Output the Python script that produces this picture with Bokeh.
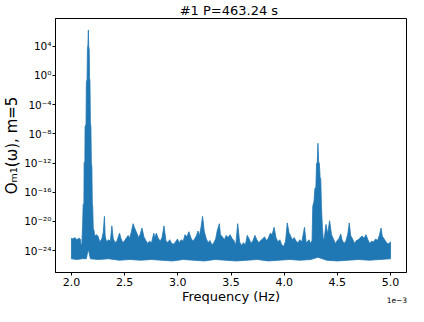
import numpy as np
from bokeh.plotting import figure
from bokeh.models import FixedTicker, CustomJSTickFormatter, Range1d, LinearAxis
from bokeh.embed import file_html
from bokeh.resources import INLINE

TITLE = "#1  P=463.24 s"
X_LABEL = "Frequency (Hz)"
Y_LABEL = "Oₘ₁(ω), m=5"
X_OFFSET_TEXT = "1e\u22123"

# upper envelope of the spectrum: frequency in units of 1e-3 Hz, log10 of value
upper_freq = [
    2.000, 2.015, 2.033, 2.051, 2.069, 2.083, 2.090, 2.098, 2.105, 2.110,
    2.117, 2.119, 2.126, 2.128, 2.137, 2.140, 2.147, 2.150, 2.155, 2.159,
    2.162, 2.167, 2.170, 2.174, 2.178, 2.183, 2.187, 2.192, 2.196, 2.200,
    2.205, 2.212, 2.218, 2.233, 2.249, 2.267, 2.285, 2.299, 2.310, 2.317,
    2.330, 2.348, 2.366, 2.380, 2.393, 2.411, 2.429, 2.452, 2.465, 2.483,
    2.501, 2.519, 2.533, 2.546, 2.560, 2.580, 2.591, 2.609, 2.632, 2.645,
    2.663, 2.681, 2.699, 2.717, 2.735, 2.753, 2.774, 2.786, 2.798, 2.816,
    2.834, 2.852, 2.870, 2.888, 2.906, 2.924, 2.942, 2.960, 2.978, 2.996,
    3.014, 3.032, 3.050, 3.068, 3.086, 3.104, 3.122, 3.140, 3.158, 3.176,
    3.190, 3.203, 3.217, 3.233, 3.248, 3.266, 3.284, 3.302, 3.320, 3.338,
    3.356, 3.370, 3.390, 3.401, 3.419, 3.437, 3.455, 3.473, 3.491, 3.509,
    3.527, 3.545, 3.563, 3.581, 3.599, 3.617, 3.635, 3.653, 3.671, 3.689,
    3.707, 3.725, 3.743, 3.761, 3.779, 3.797, 3.815, 3.833, 3.851, 3.869,
    3.887, 3.905, 3.923, 3.941, 3.959, 3.977, 3.995, 4.013, 4.029, 4.045,
    4.058, 4.076, 4.094, 4.112, 4.130, 4.148, 4.166, 4.191, 4.207, 4.220,
    4.234, 4.247, 4.262, 4.269, 4.280, 4.289, 4.298, 4.304, 4.311, 4.3175,
    4.324, 4.331, 4.338, 4.344, 4.350, 4.359, 4.368, 4.378, 4.393, 4.409,
    4.427, 4.445, 4.463, 4.481, 4.499, 4.517, 4.531, 4.544, 4.562, 4.580,
    4.598, 4.612, 4.625, 4.643, 4.661, 4.679, 4.697, 4.715, 4.733, 4.751,
    4.769, 4.787, 4.805, 4.823, 4.841, 4.859, 4.877, 4.895, 4.911, 4.922,
    4.940, 4.958, 4.976, 5.000,
]
upper_log10 = [
    -22.3, -22.4, -22.2, -22.5, -22.3, -22.4, -23.2, -23.0, -20.5, -17.7,
    -17.5, -12.0, -11.8, -7.0, -6.7, -1.0, -0.5, 3.5, 4.2, 6.2,
    4.0, 3.5, -0.3, -0.8, -6.5, -7.0, -12.0, -12.5, -17.5, -18.0,
    -21.0, -21.2, -22.0, -21.8, -22.0, -22.8, -22.4, -21.5, -19.3, -22.0,
    -22.8, -22.5, -22.7, -20.6, -22.4, -22.9, -22.6, -21.6, -22.3, -22.9,
    -22.6, -22.2, -21.9, -22.3, -21.6, -20.3, -20.8, -21.4, -22.2, -21.8,
    -20.9, -22.1, -22.6, -23.0, -22.7, -22.9, -21.6, -22.2, -21.6, -22.3,
    -22.7, -22.2, -20.6, -22.6, -22.9, -22.5, -23.0, -23.1, -22.8, -22.4,
    -22.9, -22.5, -22.7, -21.8, -22.1, -21.4, -22.2, -22.7, -22.4, -21.9,
    -21.3, -22.0, -20.9, -19.3, -21.3, -22.3, -22.9, -22.6, -23.2, -22.9,
    -22.4, -21.3, -20.3, -21.8, -22.1, -22.5, -21.9, -22.2, -21.8, -22.3,
    -22.6, -23.2, -20.3, -22.8, -23.3, -22.9, -23.2, -21.9, -22.4, -23.0,
    -22.6, -21.9, -22.5, -22.9, -22.6, -22.4, -22.1, -22.6, -22.3, -21.6,
    -21.8, -20.8, -22.2, -22.8, -22.5, -23.2, -23.4, -22.7, -20.2, -21.5,
    -21.9, -22.5, -22.2, -22.7, -22.9, -22.5, -22.8, -20.8, -22.9, -22.7,
    -22.5, -23.0, -22.6, -17.9, -17.3, -15.5, -15.3, -12.1, -11.9, -9.3,
    -11.8, -12.1, -14.0, -14.2, -17.8, -20.8, -22.5, -22.2, -20.4, -21.7,
    -19.9, -21.8, -22.4, -23.0, -22.6, -22.3, -21.7, -22.5, -23.0, -22.7,
    -21.7, -20.2, -21.9, -22.4, -23.0, -22.6, -22.5, -22.2, -22.0, -22.3,
    -21.8, -22.5, -23.0, -22.7, -22.8, -22.4, -22.6, -21.9, -20.9, -22.0,
    -22.4, -22.8, -23.1, -22.8,
]

# lower envelope of the spectrum
lower_freq = [
    2.000, 2.050, 2.100, 2.140, 2.152, 2.159, 2.166, 2.178,
    2.250, 2.350, 2.450, 2.550, 2.650, 2.750, 2.850, 2.950, 3.050, 3.150,
    3.250, 3.350, 3.450, 3.550, 3.650, 3.750, 3.850, 3.950, 4.050, 4.150,
    4.250, 4.3175, 4.400, 4.500, 4.600, 4.700, 4.800, 4.900, 5.000,
]
lower_log10 = [
    -25.1, -25.2, -25.1, -25.1, -24.2, -23.8, -24.3, -25.1,
    -25.2, -25.1, -25.3, -25.2, -25.3, -25.2, -25.3, -25.4, -25.2, -25.3,
    -25.4, -25.2, -25.3, -25.4, -25.3, -25.2, -25.4, -25.3, -25.2, -25.3,
    -25.2, -24.9, -25.3, -25.4, -25.3, -25.2, -25.3, -25.2, -25.1,
]

x_ticks = [2.0, 2.5, 3.0, 3.5, 4.0, 4.5, 5.0]          # units of 1e-3 Hz
y_tick_exponents = [4, 0, -4, -8, -12, -16, -20, -24]
x_offset_text_pos = 5.06                               # units of 1e-3 Hz

BLUE = "#1f77b4"
FONT = "DejaVu Sans"

x_lo, x_hi = 1.85e-3, 5.15e-3
y_lo, y_hi = 10 ** -26.98, 10 ** 7.78

p = figure(width=408, height=306, output_backend="svg", toolbar_location=None,
           title=TITLE, y_axis_type="log",
           x_range=Range1d(x_lo, x_hi), y_range=Range1d(y_lo, y_hi),
           min_border_left=40, min_border_right=2, min_border_top=0,
           min_border_bottom=20)

p.title.align = "center"
p.title.text_font = FONT
p.title.text_font_size = "13px"
p.title.text_font_style = "normal"
p.title.text_color = "black"
p.title.standoff = 1

fx = np.array(upper_freq) * 1e-3
fy = 10.0 ** np.array(upper_log10)
lx = np.array(lower_freq)[::-1] * 1e-3
ly = 10.0 ** np.array(lower_log10)[::-1]
p.patch(list(fx) + list(lx), list(fy) + list(ly),
        fill_color=BLUE, line_color=BLUE, line_width=0.8)

p.xgrid.visible = False
p.ygrid.visible = False
p.outline_line_color = "black"
p.outline_line_width = 1

p.xaxis.ticker = FixedTicker(ticks=[t * 1e-3 for t in x_ticks])
p.xaxis.formatter = CustomJSTickFormatter(code="return (tick*1000).toFixed(1);")
p.yaxis.ticker = FixedTicker(ticks=[10.0 ** e for e in y_tick_exponents])
p.yaxis.formatter = CustomJSTickFormatter(code="""
const e = Math.round(Math.log10(tick));
const sup = {'0':'\u2070','1':'\u00b9','2':'\u00b2','3':'\u00b3','4':'\u2074',
             '5':'\u2075','6':'\u2076','7':'\u2077','8':'\u2078','9':'\u2079','-':'\u207b'};
return '10' + String(e).split('').map(c => sup[c]).join('');
""")

for ax in (p.xaxis, p.yaxis):
    ax.axis_line_color = "black"
    ax.major_tick_line_color = "black"
    ax.major_tick_out = 3
    ax.major_tick_in = 0
    ax.minor_tick_line_color = None
    ax.major_label_text_font = FONT
    ax.major_label_text_color = "black"
    ax.axis_label_text_font = FONT
    ax.axis_label_text_font_style = "normal"
    ax.axis_label_text_color = "black"

p.xaxis.major_label_text_font_size = "11px"
p.xaxis.major_label_standoff = 2
p.xaxis.axis_label = X_LABEL
p.xaxis.axis_label_text_font_size = "13px"
p.xaxis.axis_label_standoff = 0

p.yaxis.major_label_text_font_size = "10.5px"
p.yaxis.major_label_standoff = 1
p.yaxis.axis_label = Y_LABEL
p.yaxis.axis_label_text_font_size = "15px"
p.yaxis.axis_label_standoff = 0

# the "1e-3" scale text under the right end of the x axis
offset_axis = LinearAxis(
    ticker=FixedTicker(ticks=[x_offset_text_pos * 1e-3]),
    formatter=CustomJSTickFormatter(args=dict(txt=X_OFFSET_TEXT), code="return txt;"),
    axis_line_color=None, major_tick_line_color=None, minor_tick_line_color=None,
    major_tick_out=0, major_tick_in=0, major_label_standoff=-10,
    major_label_text_font=FONT, major_label_text_font_size="7.5px",
    major_label_text_color="black")
p.add_layout(offset_axis, "below")

open("out.html", "w").write(file_html(p, INLINE))
